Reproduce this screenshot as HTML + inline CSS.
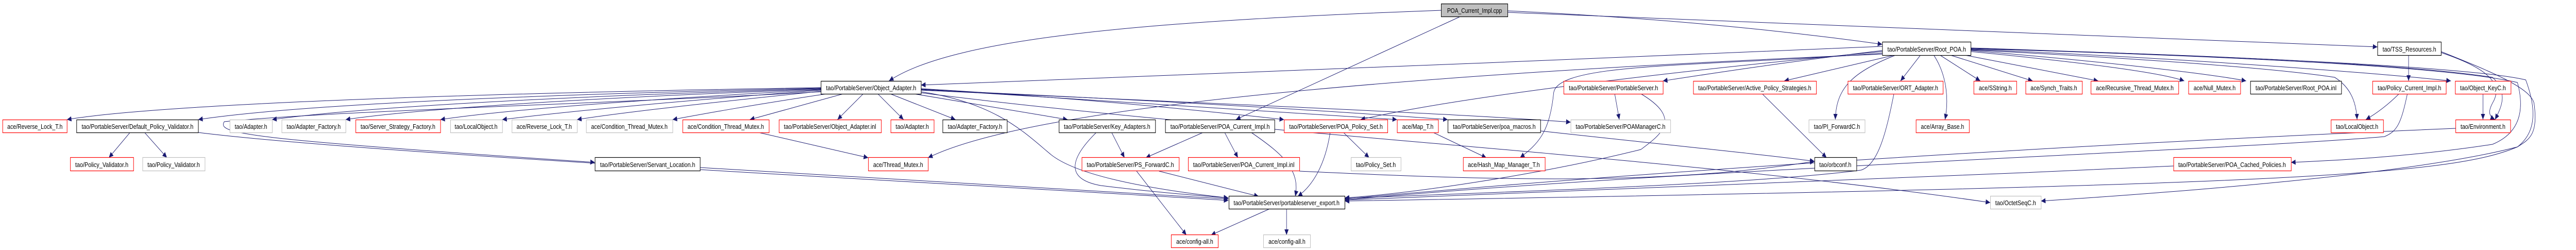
<!DOCTYPE html>
<html><head><meta charset="utf-8"><style>
html,body{margin:0;padding:0;background:#fff;overflow:hidden;width:100%;height:100%;}
svg{display:block;width:100vw;height:100vh;}
text{font-family:"Liberation Sans",sans-serif;font-size:13px;fill:#000;}
</style></head><body>
<svg viewBox="0 0 6201 485" preserveAspectRatio="none" xmlns="http://www.w3.org/2000/svg">
<defs>
<marker id="a" markerUnits="userSpaceOnUse" markerWidth="12" markerHeight="10" refX="11" refY="5" orient="auto">
<path d="M0,0 L11,5 L0,10 z" fill="#191970"/>
</marker>
</defs>
<g fill="none" stroke="#191970" stroke-width="1" marker-end="url(#a)">
<path d="M3469,20 C2800,40 2300,70 2140,157"/>
<path d="M3513,33 L2975,232"/>
<path d="M3629,21 C4000,35 4300,60 4531,86"/>
<path d="M3629,24 C4500,50 5200,70 5723,91"/>
<path d="M1976,170 C1200,180 400,200 161,232"/>
<path d="M1976,171 C1200,185 700,205 477,232"/>
<path d="M1976,172 C1300,188 850,210 655,232"/>
<path d="M1976,173 C1400,190 1000,212 832,232"/>
<path d="M1976,174 C1500,195 1200,215 1060,232"/>
<path d="M1976,175 C1600,198 1350,218 1209,232"/>
<path d="M1976,177 C1700,200 1500,218 1389,232"/>
<path d="M1990,182 C1800,205 1700,220 1619,232"/>
<path d="M2030,182 L1805,232"/>
<path d="M2078,182 L2016,232"/>
<path d="M2113,182 L2175,232"/>
<path d="M2143,182 L2300,232"/>
<path d="M2200,182 L2570,232"/>
<path d="M2217,172 C2600,190 2900,215 3091,232"/>
<path d="M2217,173 C2700,195 3100,215 3363,232"/>
<path d="M2217,174 C2800,195 3200,215 3485,232"/>
<path d="M2217,175 C2900,200 3500,220 3781,237"/>
<path d="M2217,178 C2400,200 2470,260 2530,300 C2600,345 2800,370 2957,384"/>
<path d="M1976,178 C1500,200 800,215 540,236 C520,260 600,270 1432,315"/>
<path d="M4531,90 C3800,120 2800,140 2217,165"/>
<path d="M4531,98 C4300,120 4100,145 4003,157"/>
<path d="M4560,107 L4295,157"/>
<path d="M4623,107 L4575,157"/>
<path d="M4670,107 L4767,157"/>
<path d="M4695,107 L4893,157"/>
<path d="M4730,107 L5051,157"/>
<path d="M4744,100 C5000,120 5200,140 5258,157"/>
<path d="M4744,98 C5000,115 5300,140 5407,157"/>
<path d="M4744,96 C5200,110 5700,140 5900,157"/>
<path d="M4744,97 C5200,115 5500,135 5620,150 C5660,170 5672,200 5674,232"/>
<path d="M4744,95 C5300,105 5800,125 6000,150 C6040,180 6020,210 6006,232"/>
<path d="M4744,94 C5400,110 5900,130 6060,160 C6080,220 6060,260 6000,280 C5800,305 5600,312 5515,315"/>
<path d="M4744,93 C5400,110 5950,130 6080,155 C6110,220 6100,260 6060,285 C5800,340 5200,375 4913,390"/>
<path d="M4531,100 C4000,140 3500,190 3275,232"/>
<path d="M4531,103 C4100,130 3750,120 3740,180 C3730,260 3700,280 3659,306"/>
<path d="M4563,107 C4460,140 4420,170 4418,232"/>
<path d="M4655,107 C4690,150 4690,200 4682,232"/>
<path d="M4531,105 C3500,140 2500,200 2234,306"/>
<path d="M4559,182 C4540,260 4520,320 4480,330 C4200,360 3500,375 3237,385"/>
<path d="M313,257 L262,306"/>
<path d="M348,257 L402,306"/>
<path d="M477,257 C900,300 2400,360 2957,389"/>
<path d="M1685,325 C2200,350 2700,375 2957,386"/>
<path d="M1826,257 L2090,306"/>
<path d="M2676,257 L2707,306"/>
<path d="M2639,257 C2560,320 2580,350 2650,360 C2800,375 2900,380 2957,384"/>
<path d="M2896,257 L2758,306"/>
<path d="M2948,257 L2980,306"/>
<path d="M3012,257 C3090,300 3130,330 3118,381"/>
<path d="M3234,257 L3296,306"/>
<path d="M3202,257 C3190,320 3160,360 3124,381"/>
<path d="M3450,257 L3578,306"/>
<path d="M3708,254 C4000,280 4250,300 4368,313"/>
<path d="M3887,182 L3898,232"/>
<path d="M3950,182 C4050,230 4000,260 3950,290 C3700,340 3400,375 3237,384"/>
<path d="M4242,182 L4397,306"/>
<path d="M2736,332 L2856,456"/>
<path d="M2790,332 L3030,381"/>
<path d="M3054,406 L2915,456"/>
<path d="M3097,406 L3097,456"/>
<path d="M5798,107 L5798,157"/>
<path d="M5876,102 C5980,130 6030,160 6000,200 C5990,215 5990,225 6006,232"/>
<path d="M5876,100 C6000,140 6090,170 6100,200 C6110,260 6090,270 6060,285 C5900,340 5500,360 3237,390"/>
<path d="M5775,182 C5740,210 5710,225 5695,232"/>
<path d="M5795,182 C5780,240 5770,255 5740,265 C5400,290 4000,330 3237,388"/>
<path d="M5977,182 L5977,232"/>
<path d="M5911,249 C5000,280 4000,330 3237,386"/>
<path d="M5232,322 C4500,350 3700,370 3237,388"/>
<path d="M2217,180 C3000,260 4000,300 4791,393"/>
<path d="M3128,332 C3600,350 4000,360 4368,313"/>
</g>
<g stroke-width="1.2">
<rect x="3469.5" y="7.5" width="160" height="25" fill="#bfbfbf" stroke="#000"/>
<rect x="4531.5" y="81.5" width="213" height="26" fill="#fff" stroke="#000"/>
<rect x="5723.5" y="81.5" width="153" height="26" fill="#fff" stroke="#000"/>
<rect x="1976.5" y="157.5" width="241" height="25" fill="#fff" stroke="#000"/>
<rect x="3764.5" y="157.5" width="239" height="25" fill="#fff" stroke="#f00"/>
<rect x="4076.5" y="157.5" width="296" height="25" fill="#fff" stroke="#f00"/>
<rect x="4448.5" y="157.5" width="229" height="25" fill="#fff" stroke="#f00"/>
<rect x="4751.5" y="157.5" width="103" height="25" fill="#fff" stroke="#f00"/>
<rect x="4876.5" y="157.5" width="136" height="25" fill="#fff" stroke="#f00"/>
<rect x="5033.5" y="157.5" width="211" height="25" fill="#fff" stroke="#f00"/>
<rect x="5268.5" y="157.5" width="125" height="25" fill="#fff" stroke="#f00"/>
<rect x="5417.5" y="157.5" width="219" height="25" fill="#fff" stroke="#000"/>
<rect x="5711.5" y="157.5" width="177" height="25" fill="#fff" stroke="#f00"/>
<rect x="5910.5" y="157.5" width="134" height="25" fill="#fff" stroke="#f00"/>
<rect x="6.5" y="232.5" width="155" height="25" fill="#fff" stroke="#f00"/>
<rect x="184.5" y="232.5" width="293" height="25" fill="#fff" stroke="#000"/>
<rect x="553.5" y="232.5" width="102" height="25" fill="#fff" stroke="#bfbfbf"/>
<rect x="678.5" y="232.5" width="154" height="25" fill="#fff" stroke="#bfbfbf"/>
<rect x="856.5" y="232.5" width="204" height="25" fill="#fff" stroke="#f00"/>
<rect x="1084.5" y="232.5" width="125" height="25" fill="#fff" stroke="#bfbfbf"/>
<rect x="1232.5" y="232.5" width="157" height="25" fill="#fff" stroke="#bfbfbf"/>
<rect x="1411.5" y="232.5" width="208" height="25" fill="#fff" stroke="#bfbfbf"/>
<rect x="1643.5" y="232.5" width="208" height="25" fill="#fff" stroke="#f00"/>
<rect x="1875.5" y="232.5" width="246" height="25" fill="#fff" stroke="#f00"/>
<rect x="2144.5" y="232.5" width="104" height="25" fill="#fff" stroke="#f00"/>
<rect x="2269.5" y="232.5" width="155" height="25" fill="#fff" stroke="#000"/>
<rect x="2549.5" y="232.5" width="232" height="25" fill="#fff" stroke="#000"/>
<rect x="2805.5" y="232.5" width="263" height="25" fill="#fff" stroke="#000"/>
<rect x="3091.5" y="232.5" width="249" height="25" fill="#fff" stroke="#f00"/>
<rect x="3363.5" y="232.5" width="99" height="25" fill="#fff" stroke="#f00"/>
<rect x="3485.5" y="232.5" width="223" height="25" fill="#fff" stroke="#000"/>
<rect x="3781.5" y="232.5" width="240" height="25" fill="#fff" stroke="#bfbfbf"/>
<rect x="4354.5" y="232.5" width="135" height="25" fill="#fff" stroke="#bfbfbf"/>
<rect x="4612.5" y="232.5" width="128" height="25" fill="#fff" stroke="#f00"/>
<rect x="5611.5" y="232.5" width="126" height="25" fill="#fff" stroke="#f00"/>
<rect x="5911.5" y="232.5" width="132" height="25" fill="#fff" stroke="#f00"/>
<rect x="169.5" y="305.5" width="152" height="26" fill="#fff" stroke="#f00"/>
<rect x="343.5" y="305.5" width="150" height="26" fill="#fff" stroke="#bfbfbf"/>
<rect x="1432.5" y="305.5" width="253" height="26" fill="#fff" stroke="#000"/>
<rect x="2090.5" y="305.5" width="144" height="26" fill="#fff" stroke="#f00"/>
<rect x="2604.5" y="305.5" width="234" height="26" fill="#fff" stroke="#f00"/>
<rect x="2860.5" y="305.5" width="268" height="26" fill="#fff" stroke="#f00"/>
<rect x="3252.5" y="305.5" width="120" height="26" fill="#fff" stroke="#bfbfbf"/>
<rect x="3522.5" y="305.5" width="197" height="26" fill="#fff" stroke="#f00"/>
<rect x="4368.5" y="305.5" width="101" height="26" fill="#fff" stroke="#000"/>
<rect x="5232.5" y="305.5" width="283" height="26" fill="#fff" stroke="#f00"/>
<rect x="2958.5" y="380.5" width="279" height="25" fill="#fff" stroke="#000"/>
<rect x="4791.5" y="380.5" width="122" height="25" fill="#fff" stroke="#bfbfbf"/>
<rect x="2819.5" y="455.5" width="113" height="25" fill="#fff" stroke="#f00"/>
<rect x="3041.5" y="455.5" width="113" height="25" fill="#fff" stroke="#bfbfbf"/>
</g>
<g text-anchor="middle">
<text x="3549.5" y="25" textLength="132" lengthAdjust="spacingAndGlyphs">POA_Current_Impl.cpp</text>
<text x="4638" y="100" textLength="189" lengthAdjust="spacingAndGlyphs">tao/PortableServer/Root_POA.h</text>
<text x="5800" y="100" textLength="129" lengthAdjust="spacingAndGlyphs">tao/TSS_Resources.h</text>
<text x="2097" y="175" textLength="217" lengthAdjust="spacingAndGlyphs">tao/PortableServer/Object_Adapter.h</text>
<text x="3884" y="175" textLength="215" lengthAdjust="spacingAndGlyphs">tao/PortableServer/PortableServer.h</text>
<text x="4224" y="175" textLength="272" lengthAdjust="spacingAndGlyphs">tao/PortableServer/Active_Policy_Strategies.h</text>
<text x="4563" y="175" textLength="205" lengthAdjust="spacingAndGlyphs">tao/PortableServer/ORT_Adapter.h</text>
<text x="4803" y="175" textLength="79" lengthAdjust="spacingAndGlyphs">ace/SString.h</text>
<text x="4944" y="175" textLength="112" lengthAdjust="spacingAndGlyphs">ace/Synch_Traits.h</text>
<text x="5139" y="175" textLength="187" lengthAdjust="spacingAndGlyphs">ace/Recursive_Thread_Mutex.h</text>
<text x="5331" y="175" textLength="101" lengthAdjust="spacingAndGlyphs">ace/Null_Mutex.h</text>
<text x="5527" y="175" textLength="195" lengthAdjust="spacingAndGlyphs">tao/PortableServer/Root_POA.inl</text>
<text x="5800" y="175" textLength="153" lengthAdjust="spacingAndGlyphs">tao/Policy_Current_Impl.h</text>
<text x="5977" y="175" textLength="110" lengthAdjust="spacingAndGlyphs">tao/Object_KeyC.h</text>
<text x="84" y="250" textLength="133" lengthAdjust="spacingAndGlyphs">ace/Reverse_Lock_T.h</text>
<text x="331" y="250" textLength="269" lengthAdjust="spacingAndGlyphs">tao/PortableServer/Default_Policy_Validator.h</text>
<text x="604" y="250" textLength="78" lengthAdjust="spacingAndGlyphs">tao/Adapter.h</text>
<text x="755" y="250" textLength="130" lengthAdjust="spacingAndGlyphs">tao/Adapter_Factory.h</text>
<text x="958" y="250" textLength="180" lengthAdjust="spacingAndGlyphs">tao/Server_Strategy_Factory.h</text>
<text x="1146" y="250" textLength="103" lengthAdjust="spacingAndGlyphs">tao/LocalObject.h</text>
<text x="1310" y="250" textLength="133" lengthAdjust="spacingAndGlyphs">ace/Reverse_Lock_T.h</text>
<text x="1515" y="250" textLength="184" lengthAdjust="spacingAndGlyphs">ace/Condition_Thread_Mutex.h</text>
<text x="1747" y="250" textLength="184" lengthAdjust="spacingAndGlyphs">ace/Condition_Thread_Mutex.h</text>
<text x="1998" y="250" textLength="222" lengthAdjust="spacingAndGlyphs">tao/PortableServer/Object_Adapter.inl</text>
<text x="2196" y="250" textLength="80" lengthAdjust="spacingAndGlyphs">tao/Adapter.h</text>
<text x="2347" y="250" textLength="131" lengthAdjust="spacingAndGlyphs">tao/Adapter_Factory.h</text>
<text x="2665" y="250" textLength="208" lengthAdjust="spacingAndGlyphs">tao/PortableServer/Key_Adapters.h</text>
<text x="2937" y="250" textLength="239" lengthAdjust="spacingAndGlyphs">tao/PortableServer/POA_Current_Impl.h</text>
<text x="3216" y="250" textLength="225" lengthAdjust="spacingAndGlyphs">tao/PortableServer/POA_Policy_Set.h</text>
<text x="3413" y="250" textLength="75" lengthAdjust="spacingAndGlyphs">ace/Map_T.h</text>
<text x="3597" y="250" textLength="199" lengthAdjust="spacingAndGlyphs">tao/PortableServer/poa_macros.h</text>
<text x="3901" y="250" textLength="216" lengthAdjust="spacingAndGlyphs">tao/PortableServer/POAManagerC.h</text>
<text x="4422" y="250" textLength="111" lengthAdjust="spacingAndGlyphs">tao/PI_ForwardC.h</text>
<text x="4676" y="250" textLength="104" lengthAdjust="spacingAndGlyphs">ace/Array_Base.h</text>
<text x="5674" y="250" textLength="102" lengthAdjust="spacingAndGlyphs">tao/LocalObject.h</text>
<text x="5977" y="250" textLength="108" lengthAdjust="spacingAndGlyphs">tao/Environment.h</text>
<text x="245" y="324" textLength="128" lengthAdjust="spacingAndGlyphs">tao/Policy_Validator.h</text>
<text x="418" y="324" textLength="126" lengthAdjust="spacingAndGlyphs">tao/Policy_Validator.h</text>
<text x="1559" y="324" textLength="229" lengthAdjust="spacingAndGlyphs">tao/PortableServer/Servant_Location.h</text>
<text x="2162" y="324" textLength="120" lengthAdjust="spacingAndGlyphs">ace/Thread_Mutex.h</text>
<text x="2721" y="324" textLength="210" lengthAdjust="spacingAndGlyphs">tao/PortableServer/PS_ForwardC.h</text>
<text x="2994" y="324" textLength="244" lengthAdjust="spacingAndGlyphs">tao/PortableServer/POA_Current_Impl.inl</text>
<text x="3312" y="324" textLength="96" lengthAdjust="spacingAndGlyphs">tao/Policy_Set.h</text>
<text x="3620" y="324" textLength="173" lengthAdjust="spacingAndGlyphs">ace/Hash_Map_Manager_T.h</text>
<text x="4418" y="324" textLength="77" lengthAdjust="spacingAndGlyphs">tao/orbconf.h</text>
<text x="5373" y="324" textLength="259" lengthAdjust="spacingAndGlyphs">tao/PortableServer/POA_Cached_Policies.h</text>
<text x="3097" y="398" textLength="255" lengthAdjust="spacingAndGlyphs">tao/PortableServer/portableserver_export.h</text>
<text x="4852" y="398" textLength="98" lengthAdjust="spacingAndGlyphs">tao/OctetSeqC.h</text>
<text x="2876" y="473" textLength="89" lengthAdjust="spacingAndGlyphs">ace/config-all.h</text>
<text x="3098" y="473" textLength="89" lengthAdjust="spacingAndGlyphs">ace/config-all.h</text>
</g>
</svg>
</body></html>
